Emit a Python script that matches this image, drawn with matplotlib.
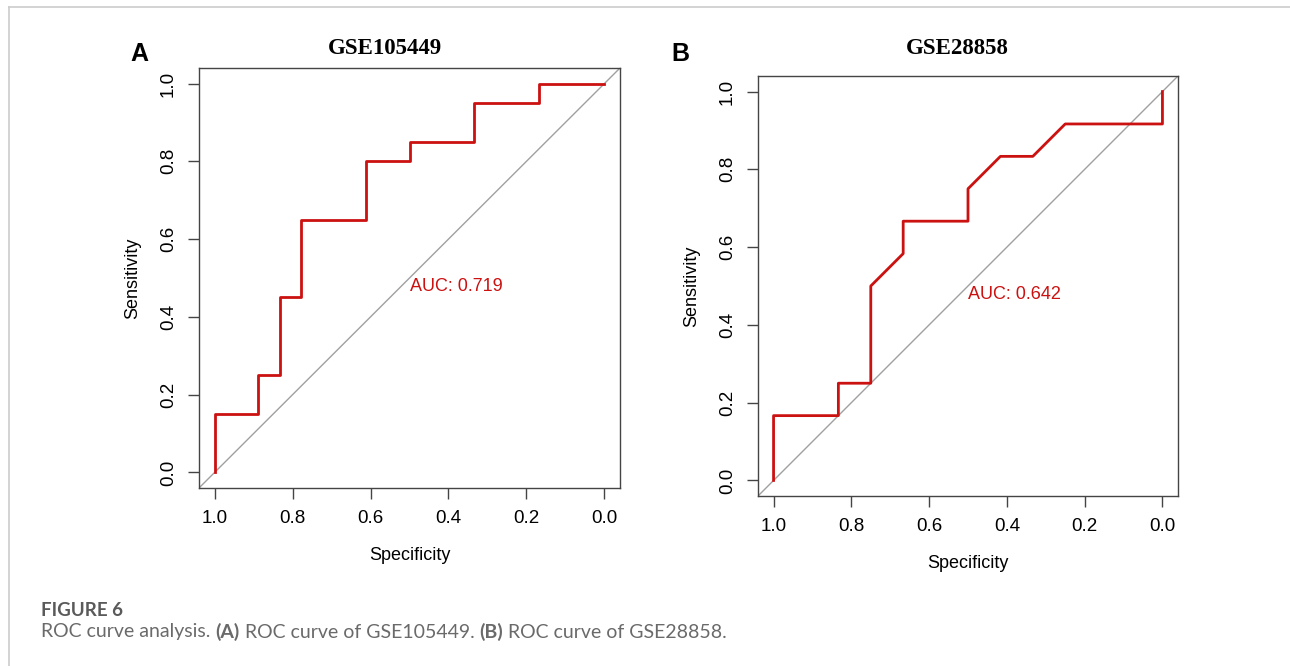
import numpy as np
import matplotlib
matplotlib.use('Agg')
import matplotlib.pyplot as plt

# ROC curve A: GSE105449
spec_a = [1.0, 1.0, 16/18, 16/18, 15/18, 15/18, 14/18, 14/18, 11/18, 11/18,
          9/18, 9/18, 6/18, 6/18, 3/18, 3/18, 0.0]
sens_a = [0.0, 0.15, 0.15, 0.25, 0.25, 0.45, 0.45, 0.65, 0.65, 0.80,
          0.80, 0.85, 0.85, 0.95, 0.95, 1.0, 1.0]
auc_a = 0.719

# ROC curve B: GSE28858
spec_b = [1.0, 1.0, 10/12, 10/12, 9/12, 9/12, 8/12, 8/12, 6/12, 6/12,
          5/12, 4/12, 3/12, 0.0, 0.0]
sens_b = [0.0, 2/12, 2/12, 3/12, 3/12, 6/12, 7/12, 8/12, 8/12, 9/12,
          10/12, 10/12, 11/12, 11/12, 1.0]
auc_b = 0.642

panels = [
    ('A', 'GSE105449', spec_a, sens_a, auc_a),
    ('B', 'GSE28858', spec_b, sens_b, auc_b),
]

W, H = 1290, 666
fig = plt.figure(figsize=(W / 100, H / 100), dpi=100)

def fx(px):
    return px / W

def fy(py):
    return 1 - py / H

# axes boxes in pixels: left, top, right, bottom
boxes = [(199, 68, 620, 488), (758, 76, 1178, 496)]
title_pos = [(385, 49), (957, 49)]
letter_pos = [(139, 54), (680, 54)]

red = '#cc1111'
sans = ['Liberation Sans', 'DejaVu Sans']

for (letter, title, spec, sens, auc), box, tp, lp in zip(panels, boxes, title_pos, letter_pos):
    l, t, r, b = box
    ax = fig.add_axes([fx(l), fy(b), fx(r) - fx(l), fy(t) - fy(b)])
    ax.axline((1, 0), (0, 1), color='#a0a0a0', lw=1.0, zorder=1)
    ax.plot(spec, sens, color=red, lw=2.0, zorder=2)
    ax.set_xlim(1.04, -0.04)
    ax.set_ylim(-0.04, 1.04)
    ticks = [0.0, 0.2, 0.4, 0.6, 0.8, 1.0]
    ax.set_xticks(ticks)
    ax.set_yticks(ticks)
    ax.set_xticklabels(['%.1f' % v for v in ticks], family=sans, fontsize=13.5)
    ax.set_yticklabels(['%.1f' % v for v in ticks], family=sans, fontsize=13.5,
                       rotation=90, va='center')
    ax.tick_params(length=8, width=1.0, color='#444444', pad=8)
    for s in ax.spines.values():
        s.set_color('#444444')
        s.set_linewidth(1.0)
    ax.set_xlabel('Specificity', family=sans, fontsize=13)
    ax.set_ylabel('Sensitivity', family=sans, fontsize=13)
    ax.xaxis.set_label_coords(0.5, -0.16)
    ax.xaxis.label.set_va('center')
    ax.yaxis.set_label_coords(-0.157, 0.5)
    ax.yaxis.label.set_va('center')
    ax.text(0.5, 0.5, 'AUC: %.3f' % auc, color=red, family=sans, fontsize=13,
            ha='left', va='top')
    fig.text(fx(tp[0]), fy(tp[1]), title, family=['Liberation Serif', 'DejaVu Serif'],
             fontweight='bold', fontsize=16.5, ha='center', va='center')
    fig.text(fx(lp[0]), fy(lp[1]), letter, family=sans, fontweight='bold',
             fontsize=18, ha='center', va='center')

# page frame lines
fig.add_artist(plt.Line2D([fx(9), fx(9)], [fy(7), 0], color='#cccccc', lw=1.2))
fig.add_artist(plt.Line2D([fx(9), 1], [fy(7), fy(7)], color='#cccccc', lw=1.2))

# caption
cap_font = ['Lato', 'DejaVu Sans']
fig.text(fx(41), fy(610), 'FIGURE 6', family=cap_font, fontweight='bold',
         fontsize=13.5, color='#5a5a5a', va='center')
pieces = [('ROC curve analysis. ', 'normal'), ('(A)', 'bold'),
          (' ROC curve of GSE105449. ', 'normal'), ('(B)', 'bold'),
          (' ROC curve of GSE28858.', 'normal')]
renderer = fig.canvas.get_renderer()
x = fx(41)
for txt, wt in pieces:
    tt = fig.text(x, fy(632), txt, family=cap_font, fontweight=wt,
                  fontsize=14, color='#6a6a6a', va='center')
    bb = tt.get_window_extent(renderer=renderer)
    x += bb.width / W

fig.savefig('out.png', dpi=100)
